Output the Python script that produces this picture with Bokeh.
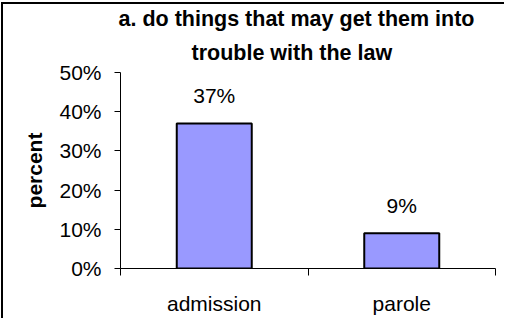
from bokeh.plotting import figure
from bokeh.models import Range1d, FixedTicker, NumeralTickFormatter, Title, ColumnDataSource
from bokeh.core.properties import value
from bokeh.embed import file_html
from bokeh.resources import INLINE

# data
categories = ["admission", "parole"]
values = [0.37, 0.09]
value_labels = ["37%", "9%"]
title_lines = ["a. do things that may get them into", "trouble with the law"]
y_ticks = [0.0, 0.1, 0.2, 0.3, 0.4, 0.5]

FONT = "Liberation Sans"
xs = [i + 0.5 for i in range(len(categories))]

p = figure(width=503, height=316, output_backend="svg", toolbar_location=None,
           x_range=Range1d(0, len(categories)), y_range=Range1d(0, 0.5),
           min_border_left=117, min_border_right=11, min_border_top=68, min_border_bottom=52)
p.styles = {"margin-left": "1px", "margin-top": "2px",
            "border-left": "2px solid black", "border-top": "2px solid black"}
p.outline_line_color = None
p.xgrid.visible = False
p.ygrid.visible = False
p.background_fill_color = "white"
p.border_fill_color = "white"

src = ColumnDataSource(dict(x=xs, top=values, lab=value_labels))
p.vbar(x="x", top="top", width=0.4, source=src, fill_color="#9999FF",
       line_color="black", line_width=2)
p.text(x="x", y="top", text="lab", source=src, text_align="center",
       text_baseline="alphabetic", y_offset=-28, text_font=value(FONT),
       text_font_size=value("21px"), text_color="black")

# x axis
xa = p.xaxis[0]
xa.ticker = FixedTicker(ticks=xs, minor_ticks=list(range(len(categories) + 1)))
xa.major_label_overrides = {x: c for x, c in zip(xs, categories)}
xa.major_tick_out = 0
xa.major_tick_in = 0
xa.minor_tick_out = 7
xa.minor_tick_in = 0
xa.minor_tick_line_color = "black"
xa.axis_line_color = "black"
xa.major_label_text_font = FONT
xa.major_label_text_font_size = "21px"
xa.major_label_text_color = "black"
xa.major_label_standoff = 16

# y axis
ya = p.yaxis[0]
ya.ticker = FixedTicker(ticks=y_ticks, minor_ticks=[])
ya.formatter = NumeralTickFormatter(format="0%")
ya.major_tick_out = 6
ya.major_tick_in = 0
ya.minor_tick_out = 0
ya.minor_tick_in = 0
ya.axis_line_color = "black"
ya.major_tick_line_color = "black"
ya.major_label_text_font = FONT
ya.major_label_text_font_size = "21px"
ya.major_label_text_color = "black"
ya.major_label_standoff = 13
ya.axis_label = "percent"
ya.axis_label_text_font = FONT
ya.axis_label_text_font_style = "bold"
ya.axis_label_text_font_size = "21px"
ya.axis_label_text_color = "black"
ya.axis_label_standoff = 10

# title lines (bottom line added first: later titles sit farther from the plot)
title_offsets = [-2, 71]
title_standoffs = [0, 16]
for t, off, so in reversed(list(zip(title_lines, title_offsets, title_standoffs))):
    p.add_layout(Title(text=t, align="left", offset=off, standoff=so,
                       text_font=FONT, text_font_style="bold",
                       text_font_size="21.5px", text_color="black"), "above")

open("out.html", "w").write(file_html(p, INLINE))
